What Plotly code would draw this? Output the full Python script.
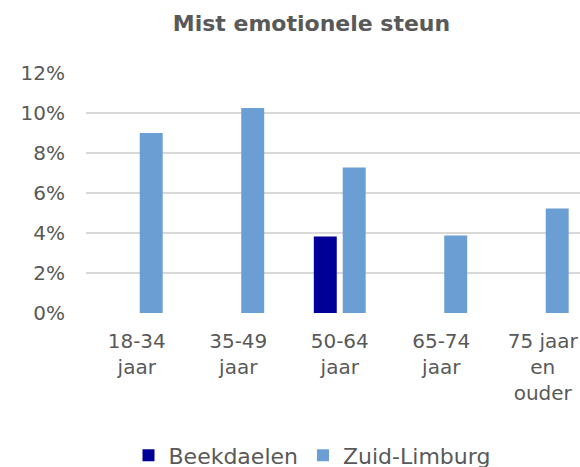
import plotly.graph_objects as go

categories = ["18-34<br>jaar", "35-49<br>jaar", "50-64<br>jaar", "65-74<br>jaar", "75 jaar<br>en<br>ouder"]
beekdaelen = [None, None, 0.0383, None, None]
zuid_limburg = [0.090, 0.1025, 0.0728, 0.0387, 0.0523]
y_ticks = [0, 0.02, 0.04, 0.06, 0.08, 0.10, 0.12]
y_tick_labels = ["0%", "2%", "4%", "6%", "8%", "10%", "12%"]

FONT = "DejaVu Sans"
GREY = "#595959"

fig = go.Figure()
fig.add_trace(go.Bar(x=categories, y=beekdaelen, name="Beekdaelen",
                     marker=dict(color="#000099", line=dict(width=0))))
fig.add_trace(go.Bar(x=categories, y=zuid_limburg, name="Zuid-Limburg",
                     marker=dict(color="#6B9ED3", line=dict(width=0))))

fig.update_layout(
    width=580, height=467,
    margin=dict(l=86, r=0, t=73, b=154, autoexpand=False),
    paper_bgcolor="white", plot_bgcolor="white",
    barmode="group", bargap=0.43, bargroupgap=0.207,
    font=dict(family=FONT, color=GREY),
    title=dict(text="<b>Mist emotionele steun</b>", x=311.5 / 580, xref="container",
               xanchor="center", y=1 - 23 / 467, yref="container", yanchor="middle",
               font=dict(size=22, family=FONT, color=GREY)),
    xaxis=dict(range=[-0.5, 4.367], showgrid=False, showline=False, zeroline=False,
               tickfont=dict(size=20, family=FONT, color=GREY), ticks="",
               ticklabelstandoff=14, fixedrange=True),
    yaxis=dict(range=[0, 0.12], tickvals=y_ticks, ticktext=y_tick_labels,
               showgrid=True, gridcolor="#d9d9d9", gridwidth=2,
               zeroline=False, showline=False, ticks="",
               ticklabelstandoff=20,
               tickfont=dict(size=20, family=FONT, color=GREY), fixedrange=True),
    legend=dict(orientation="h", xref="container", yref="container",
                x=312 / 580, xanchor="center", y=1 - 434.5 / 467, yanchor="top",
                font=dict(size=22, family=FONT, color=GREY),
                itemwidth=30, traceorder="normal", tracegroupgap=0,
                bgcolor="rgba(0,0,0,0)"),
    showlegend=True,
)

fig.write_html(
    "out.html",
    config={"displayModeBar": False},
    post_script="document.body.style.margin='0';document.body.style.overflow='hidden';",
)
